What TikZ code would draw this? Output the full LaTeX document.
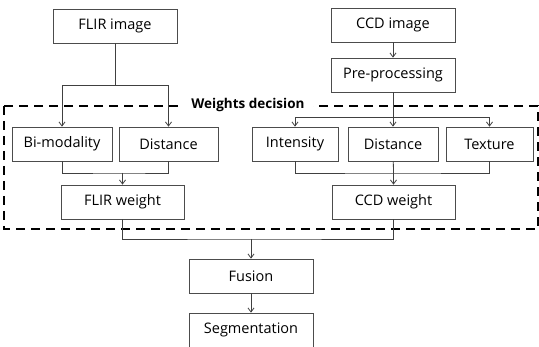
\documentclass[tikz,border=0pt]{standalone}
\usepackage{fontspec}
\setmainfont{Open Sans}
\usetikzlibrary{arrows.meta}

\tikzset{
	blk/.style={draw=black!70, line width=0.8pt, minimum height=34pt, inner sep=0pt, font=\fontsize{14.5}{16}\selectfont},
	wire/.style={draw=black!75, line width=0.8pt},
	arr/.style={wire, -{Straight Barb[length=4pt, width=6pt]}}
}

\begin{document}
\begin{tikzpicture}[x=1pt, y=-1pt]
	\useasboundingbox (0,0) rectangle (539,347);
	\node[blk, minimum width=124pt] (flir) at (115,26) {FLIR image};
	\node[blk, minimum width=124pt] (ccd) at (393,25) {CCD image};
	\node[blk, minimum width=124pt] (pre) at (393,75) {Pre-processing};
	\node[blk, minimum width=100pt] (bimod) at (62,144) {Bi-modality};
	\node[blk, minimum width=99pt] (distf) at (168.5,144) {Distance};
	\node[blk, minimum width=86pt] (inten) at (295,144) {Intensity};
	\node[blk, minimum width=90pt] (distc) at (393,144) {Distance};
	\node[blk, minimum width=87pt] (tex) at (489.5,144) {Texture};
	\node[blk, minimum width=123pt] (flirw) at (122.5,202) {FLIR weight};
	\node[blk, minimum width=123pt] (ccdw) at (393.5,202) {CCD weight};
	\node[blk, minimum width=124pt] (fusion) at (251,276) {Fusion};
	\node[blk, minimum width=124pt] (seg) at (251,330) {Segmentation};

	\coordinate (fsplit) at (flir.south |- 0,85);
	\coordinate (fjoin) at (flirw.north |- 0,173);
	\coordinate (csplit) at (pre.south |- 0,117);
	\coordinate (cjoin) at (ccdw.north |- 0,173);
	\coordinate (fuse) at (fusion.north |- 0,239);

	% weights decision frame
	\draw[line width=1.8pt, dash pattern=on 9pt off 6pt] (4,106) rectangle (538,229);
	\node[fill=white, inner xsep=8pt, inner ysep=1pt, font=\fontsize{13.5}{15}\selectfont\bfseries] (wlabel) at (248,105) {Weights decision};

	\draw[wire] (flir) -- (fsplit);
	\draw[arr] (fsplit) -| (bimod);
	\draw[arr] (fsplit) -| (distf);
	\draw[wire] (bimod) |- (fjoin) -| (distf);
	\draw[arr] (fjoin) -- (flirw);

	\draw[arr] (ccd) -- (pre);
	\draw[wire] (pre) -- (csplit);
	\draw[arr] (csplit) -| (inten);
	\draw[arr] (csplit) -- (distc);
	\draw[arr] (csplit) -| (tex);
	\draw[wire] (inten) |- (cjoin) -| (tex);
	\draw[wire] (distc) -- (cjoin);
	\draw[arr] (cjoin) -- (ccdw);

	\draw[wire] (flirw) |- (fuse) -| (ccdw);
	\draw[arr] (fuse) -- (fusion);
	\draw[arr] (fusion) -- (seg);
\end{tikzpicture}
\end{document}
